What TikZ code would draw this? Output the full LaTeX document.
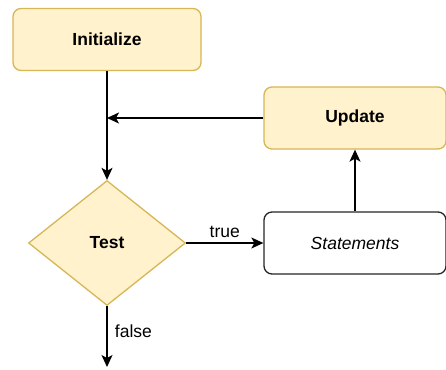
\documentclass[tikz,border=0pt]{standalone}
\usepackage{fontspec}
\setmainfont{Liberation Sans}
\usetikzlibrary{shapes.geometric,arrows.meta,calc}
\definecolor{yfill}{HTML}{FFF2CC}
\definecolor{ydraw}{HTML}{D6B656}
\begin{document}
\begin{tikzpicture}[x=1pt,y=-1pt,
  font=\fontsize{17.5}{20}\selectfont,
  ybox/.style={draw=ydraw,fill=yfill,line width=1.3pt,rounded corners=8pt,minimum width=188pt,minimum height=62pt,inner sep=0pt,font=\fontsize{17.5}{20}\selectfont\bfseries},
  wbox/.style={draw=black!85,fill=white,line width=1.3pt,rounded corners=8pt,minimum width=182pt,minimum height=62pt,inner sep=0pt,font=\fontsize{17.5}{20}\selectfont\itshape},
  ydia/.style={diamond,draw=ydraw,fill=yfill,line width=1.3pt,minimum width=157pt,minimum height=125pt,inner sep=0pt,font=\fontsize{17.5}{20}\selectfont\bfseries},
  conn/.style={line width=1.3pt,-{Stealth[length=12pt,width=11pt,inset=3pt]}}]
\useasboundingbox (0,0) rectangle (446,369);
\node[ybox] (init) at (107,39.5) {Initialize};
\node[ybox,minimum width=182pt] (upd) at (355,118) {Update};
\node[ydia] (test) at (107,243) {Test};
\node[wbox] (stat) at (355,243) {Statements};
\coordinate (join) at (init.south |- upd.west);
\coordinate (endf) at (107,367);
\draw[conn] (init.south) -- (test.north);
\draw[conn] (upd.west) -- (join);
\draw[conn] (stat.north) -- (upd.south);
\draw[conn] (test.east) -- node[above=1pt] {true} (stat.west);
\draw[conn] (test.south) -- node[right=4pt,pos=0.42] {false} (endf);
\end{tikzpicture}
\end{document}
